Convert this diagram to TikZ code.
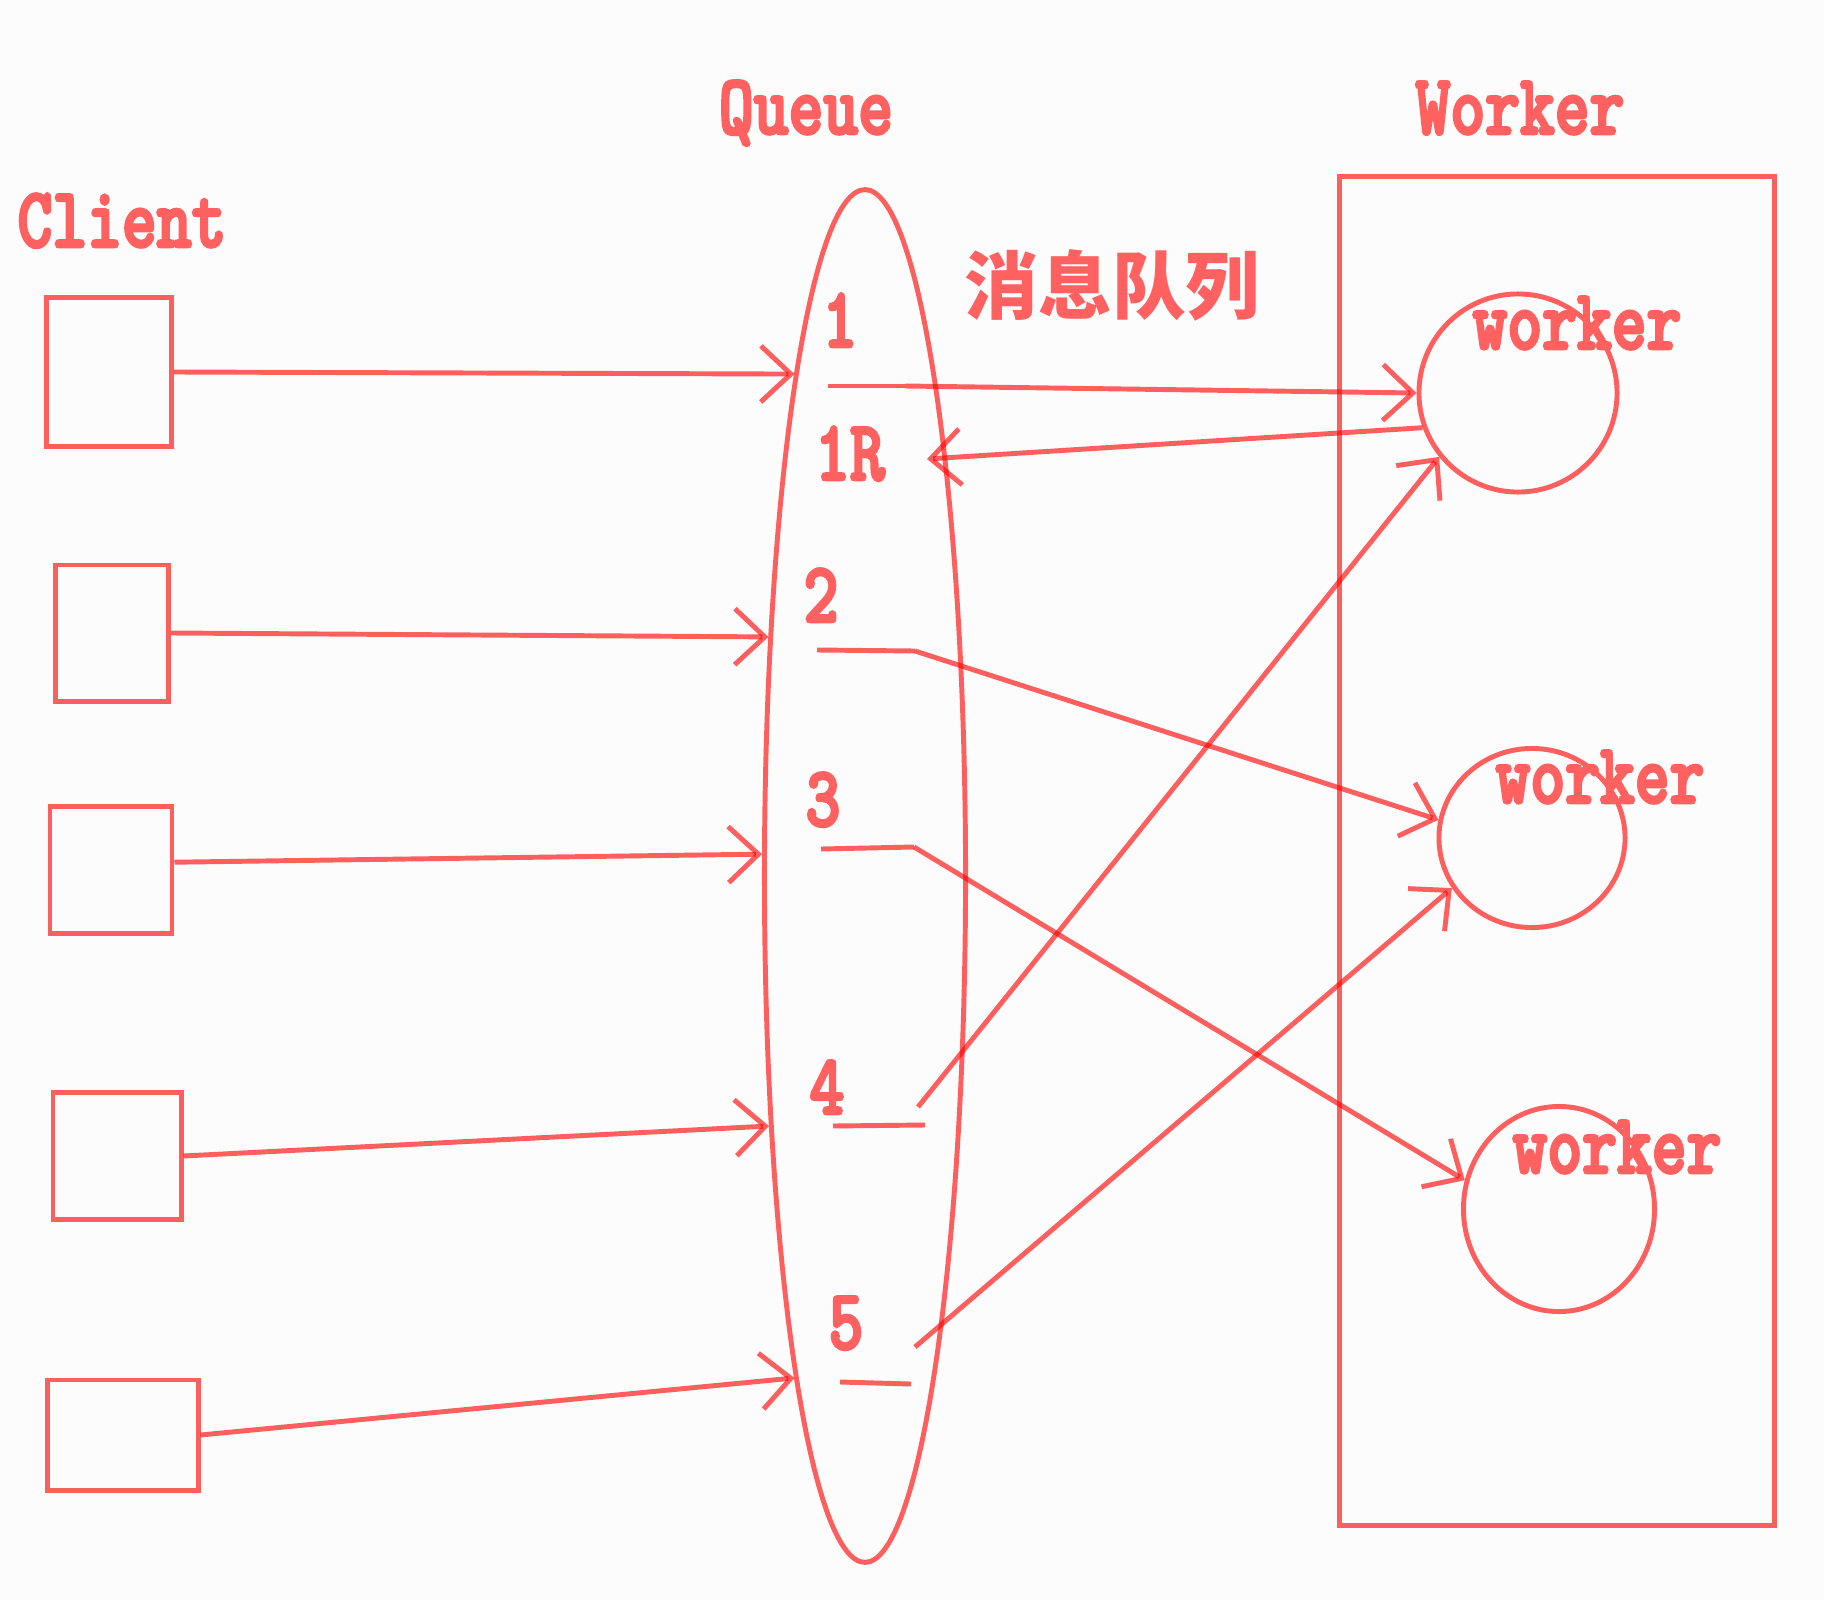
\documentclass[tikz,border=0pt]{standalone}
\usepackage{fontspec}
\usepackage{tikz}
\usetikzlibrary{shapes,arrows.meta,positioning}
\newfontfamily\lblfont[Extension=.otf, FakeStretch=0.77, UprightFont=lmmono10-regular, BoldFont=lmmonolt10-bold, BoldFeatures={FakeBold=3}]{lmmono10-regular}
\newfontfamily\cjkfont{Noto Sans CJK SC}
\definecolor{qred}{RGB}{255,96,96}
\definecolor{paper}{RGB}{252,252,252}

\tikzset{
  ln/.style={draw=red, draw opacity=0.62, line width=1.4pt},
  arr/.style={ln, -{Straight Barb[length=3mm,width=5.6mm]}},
  box/.style={ln, rectangle, inner sep=0pt},
  ball/.style={ln, ellipse, inner sep=0pt},
  lbl/.style={text=qred, font=\lblfont\bfseries\fontsize{24.5}{26}\selectfont, anchor=base, inner sep=0pt},
}

\begin{document}
\begin{tikzpicture}[x=0.01cm, y=-0.01cm]
    \fill[paper] (0,0) rectangle (1824,1600);
    \useasboundingbox (0,0) rectangle (1824,1600);

    % titles
    \node[lbl] (tclient) at (122,247) {Client};
    \node[lbl] (tqueue) at (806,134) {Queue};
    \node[lbl] (tworker) at (1520,134) {Worker};
    \node[text=qred, inner sep=0pt, font=\cjkfont\bfseries\fontsize{21}{23}\selectfont] (tmq) at (1112,285) {消息队列};

    % clients
    \node[box, minimum width=1.25cm, minimum height=1.48cm] (c1) at (109,372) {};
    \node[box, minimum width=1.13cm, minimum height=1.36cm] (c2) at (112,633) {};
    \node[box, minimum width=1.22cm, minimum height=1.27cm] (c3) at (111,870) {};
    \node[box, minimum width=1.28cm, minimum height=1.27cm] (c4) at (117,1156) {};
    \node[box, minimum width=1.50cm, minimum height=1.10cm] (c5) at (123,1435) {};

    % queue
    \node[ball, minimum width=2.01cm, minimum height=13.72cm] (q) at (865,876) {};
    \node[lbl] (m1) at (840,347) {1};
    \node[lbl] (m1r) at (850,480) {1R};
    \node[lbl] (m2) at (821,622) {2};
    \node[lbl] (m3) at (823,826) {3};
    \node[lbl] (m4) at (827,1114) {4};
    \node[lbl] (m5) at (846,1349) {5};

    % workers
    \node[box, minimum width=4.34cm, minimum height=13.48cm] (wk) at (1557,851) {};
    \node[ball, minimum width=1.98cm, minimum height=1.98cm] (w1) at (1518,393) {};
    \node[ball, minimum width=1.86cm, minimum height=1.79cm] (w2) at (1532,838) {};
    \node[ball, minimum width=1.91cm, minimum height=2.05cm] (w3) at (1559,1209) {};
    \node[lbl] (l1) at (1577,349) {worker};
    \node[lbl] (l2) at (1600,803) {worker};
    \node[lbl] (l3) at (1617,1173) {worker};

    % stubs under the numbers
    \coordinate (s1a) at (828,386); \coordinate (s1b) at (905,386);
    \coordinate (s2a) at (817,650); \coordinate (s2b) at (915,651);
    \coordinate (s3a) at (821,849); \coordinate (s3b) at (914,847);
    \coordinate (s4a) at (833,1126); \coordinate (s4b) at (925,1125);
    \coordinate (s5a) at (840,1382); \coordinate (s5b) at (911,1384);
    \coordinate (o4) at (918,1107);
    \coordinate (o5) at (915,1347);
    \coordinate (ret) at (927,459);
    \foreach \i in {1,...,5}
        \draw[ln] (s\i a) -- (s\i b);

    % clients to queue
    \draw[arr] (c1.east) -- (q.98);
    \draw[arr] (c2.east) -- (q.112);
    \draw[arr] (c3.7) -- (q.168);
    \draw[arr] (c4.east) -- (q.249);
    \draw[arr] (c5.east) -- (q.262.6);

    % queue to workers
    \draw[arr] (s1b) -- (w1.west);
    \draw[arr] (w1.200) -- (ret);
    \draw[arr] (s2b) -- (w2.169);
    \draw[arr] (s3b) -- (w3.163);
    \draw[arr] (o4) -- (w1.219);
    \draw[arr] (o5) -- (w2.212);
\end{tikzpicture}
\end{document}
